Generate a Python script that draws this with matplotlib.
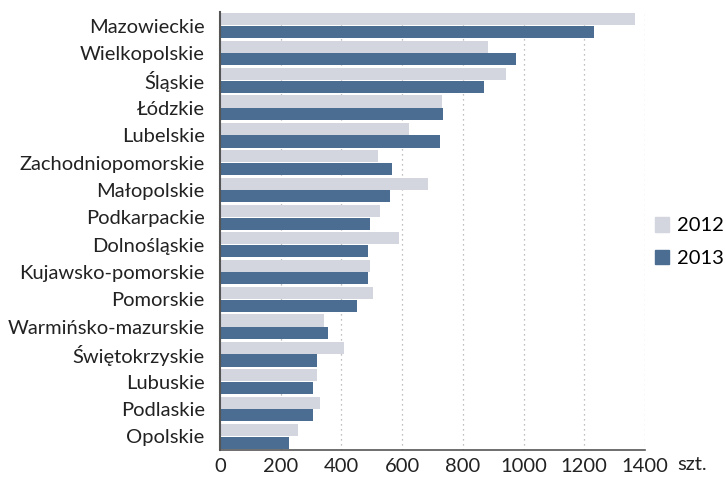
import matplotlib.pyplot as plt
import numpy as np
from matplotlib.patches import Patch

plt.rcParams['font.family'] = ['Lato', 'DejaVu Sans']

regions = [
    "Mazowieckie", "Wielkopolskie", "Śląskie", "Łódzkie", "Lubelskie",
    "Zachodniopomorskie", "Małopolskie", "Podkarpackie", "Dolnośląskie",
    "Kujawsko-pomorskie", "Pomorskie", "Warmińsko-mazurskie",
    "Świętokrzyskie", "Lubuskie", "Podlaskie", "Opolskie",
]
values_2012 = [1367, 883, 942, 731, 623, 520, 685, 527, 590, 494, 504, 343, 408, 320, 329, 257]
values_2013 = [1232, 975, 870, 734, 725, 567, 560, 494, 488, 488, 451, 356, 320, 306, 306, 227]
x_ticks = [0, 200, 400, 600, 800, 1000, 1200, 1400]

color_2012 = "#d3d6df"
color_2013 = "#4a6d91"

fig = plt.figure(figsize=(7.26, 4.8), dpi=100)
ax = fig.add_axes([220 / 726, 30 / 480, 425 / 726, 438 / 480])

y = np.arange(len(regions))
h = 0.44
ax.barh(y - h / 2 - 0.01, values_2012, height=h, color=color_2012, zorder=2)
ax.barh(y + h / 2 + 0.01, values_2013, height=h, color=color_2013, zorder=2)

ax.set_ylim(len(regions) - 0.5, -0.5)
ax.set_xlim(0, 1400)
ax.set_yticks(y)
ax.set_yticklabels(regions, fontsize=14.5, color="#222222")
ax.set_xticks(x_ticks)
ax.set_xticklabels([str(t) for t in x_ticks], fontsize=14.5, color="#222222")
ax.tick_params(axis="both", length=0)
ax.tick_params(axis="x", pad=6)
ax.tick_params(axis="y", pad=11)

ax.grid(axis="x", linestyle=(0, (1, 3)), color="#aaaaaa", linewidth=0.9, zorder=0)
for side in ["top", "right"]:
    ax.spines[side].set_visible(False)
ax.spines["left"].set_color("#555555")
ax.spines["left"].set_linewidth(1.5)
ax.spines["bottom"].set_color("#555555")
ax.spines["bottom"].set_linewidth(1.2)

fig.text(677 / 726, 1 - 465 / 480, "szt.", fontsize=14.5, color="#222222", va="center")

handles = [Patch(color=color_2012, label="2012"), Patch(color=color_2013, label="2013")]
fig.legend(handles=handles, loc="center right", bbox_to_anchor=(724 / 726, 1 - 242 / 480),
           frameon=False, fontsize=14.5, handlelength=0.72, handleheight=0.72,
           labelspacing=0.75, handletextpad=0.4, borderpad=0, borderaxespad=0)

fig.savefig("out.png", dpi=100)
